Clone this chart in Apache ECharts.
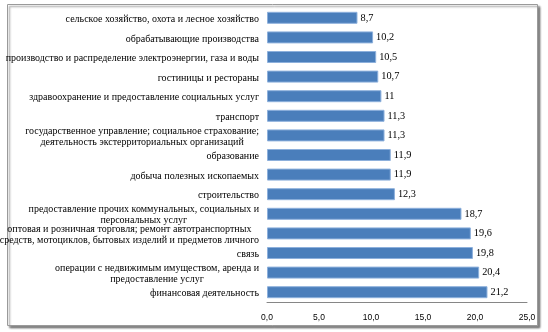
<!DOCTYPE html>
<html>
<head>
<meta charset="utf-8">
<script src="https://cdn.jsdelivr.net/npm/echarts@6/dist/echarts.min.js"></script>
<style>
  html, body { margin: 0; padding: 0; background: #fff; }
  #chart { width: 548px; height: 332px; }
</style>
</head>
<body>
<div id="chart"></div>
<script>
// Отрасли экономики (строки с переносом выводятся в две строки)
const categories = [
  'сельское хозяйство, охота и лесное хозяйство',
  'обрабатывающие производства',
  'производство и распределение электроэнергии, газа и воды',
  'гостиницы и рестораны',
  'здравоохранение и предоставление социальных услуг',
  'транспорт',
  'государственное управление; социальное страхование;\nдеятельность экстерриториальных организаций',
  'образование',
  'добыча полезных ископаемых',
  'строительство',
  'предоставление прочих коммунальных, социальных и\nперсональных услуг',
  'оптовая и розничная торговля; ремонт автотранспортных\nсредств, мотоциклов, бытовых изделий и предметов личного',
  'связь',
  'операции с недвижимым имуществом, аренда и\nпредоставление услуг',
  'финансовая деятельность'
];

const values = [8.7, 10.2, 10.5, 10.7, 11, 11.3, 11.3, 11.9, 11.9, 12.3, 18.7, 19.6, 19.8, 20.4, 21.2];

// Шкала значений
const axisMin = 0;
const axisMax = 25;
const axisStep = 5;

const comma = v => String(v).replace('.', ',');

const chart = echarts.init(document.getElementById('chart'), null, { renderer: 'canvas' });

chart.setOption({
  animation: false,
  backgroundColor: '#ffffff',
  graphic: [{
    type: 'rect',
    shape: { x: 7.5, y: 4.5, width: 530, height: 321 },
    style: {
      fill: '#ffffff',
      stroke: '#9a9a9a',
      lineWidth: 1,
      shadowColor: 'rgba(0,0,0,0.45)',
      shadowBlur: 2,
      shadowOffsetX: 2,
      shadowOffsetY: 2
    },
    z: -10,
    silent: true
  }],
  grid: { left: 267, top: 8, width: 260, height: 294, containLabel: false, outerBoundsMode: 'none' },
  xAxis: {
    type: 'value',
    min: axisMin,
    max: axisMax,
    interval: axisStep,
    splitLine: { show: false },
    axisLine: { show: true, lineStyle: { color: '#868686', width: 1 } },
    axisTick: { show: false },
    axisLabel: {
      margin: 11,
      color: '#000',
      fontFamily: 'Liberation Sans',
      fontSize: 8.5,
      formatter: v => v.toFixed(1).replace('.', ',')
    }
  },
  yAxis: {
    type: 'category',
    inverse: true,
    data: categories,
    axisLine: { show: false },
    axisTick: { show: false },
    axisLabel: {
      margin: 8,
      interval: 0,
      color: '#000',
      fontFamily: 'Liberation Serif',
      fontSize: 10,
      lineHeight: 11,
      padding: [3, 0, 0, 0],
      formatter: v => v.split('\n').map(l => '{c|' + l + '}').join('\n'),
      rich: {
        c: { align: 'center', fontFamily: 'Liberation Serif', fontSize: 10, lineHeight: 11, color: '#000' }
      }
    }
  },
  series: [{
    type: 'bar',
    data: values,
    barWidth: 12,
    itemStyle: {
      color: '#4a7ebb',
      borderColor: '#8db0dc',
      borderWidth: 1
    },
    label: {
      show: true,
      position: 'right',
      distance: 3,
      color: '#000',
      fontFamily: 'Liberation Serif',
      fontSize: 10.3,
      padding: [3, 0, 0, 0],
      formatter: p => comma(p.value)
    }
  }]
});
</script>
</body>
</html>
